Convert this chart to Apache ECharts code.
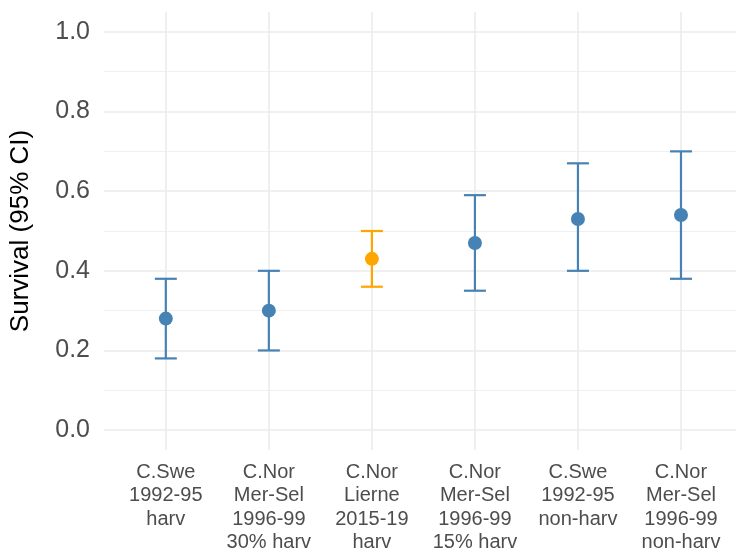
<!DOCTYPE html>
<html>
<head>
<meta charset="utf-8">
<script src="https://cdn.jsdelivr.net/npm/echarts@6/dist/echarts.min.js"></script>
<style>
  html, body { margin: 0; padding: 0; background: #ffffff; }
  #chart { width: 736px; height: 558px; }
</style>
</head>
<body>
<div id="chart"></div>
<script>
// Population / period groups along the x axis
const categories = [
  'C.Swe\n1992-95\nharv',
  'C.Nor\nMer-Sel\n1996-99\n30% harv',
  'C.Nor\nLierne\n2015-19\nharv',
  'C.Nor\nMer-Sel\n1996-99\n15% harv',
  'C.Swe\n1992-95\nnon-harv',
  'C.Nor\nMer-Sel\n1996-99\nnon-harv'
];
// Survival estimate and 95% CI bounds
const survival = [0.28, 0.30, 0.43, 0.47, 0.53, 0.54];
const lower    = [0.18, 0.20, 0.36, 0.35, 0.40, 0.38];
const upper    = [0.38, 0.40, 0.50, 0.59, 0.67, 0.70];
// Highlighted study
const focal    = [false, false, true, false, false, false];

const yMajorTicks = [0, 0.2, 0.4, 0.6, 0.8, 1.0];
const yMinorTicks = [0.1, 0.3, 0.5, 0.7, 0.9];

const BLUE = '#4682B4';
const ORANGE = '#FFA500';
const GRID = '#ebebeb';
const FONT = '"Liberation Sans", Arial, sans-serif';

const idx = categories.map((_, i) => i);
const colorOf = i => (focal[i] ? ORANGE : BLUE);

const chart = echarts.init(document.getElementById('chart'), null, { renderer: 'canvas' });

const option = {
  backgroundColor: '#ffffff',
  animation: false,
  grid: { left: 103, right: 0, top: 12, bottom: 108, containLabel: false },
  xAxis: {
    type: 'value',
    min: -0.6,
    max: 5.534,
    axisLine: { show: false },
    axisTick: { show: false, customValues: idx },
    splitLine: { show: true, lineStyle: { color: GRID, width: 1.6 } },
    axisLabel: {
      customValues: idx,
      formatter: v => categories[Math.round(v)],
      color: '#4d4d4d',
      fontFamily: FONT,
      fontSize: 20,
      lineHeight: 23.3,
      margin: 11,
      align: 'center'
    }
  },
  yAxis: [
    {
      type: 'value',
      min: -0.05,
      max: 1.05,
      name: 'Survival (95% CI)',
      nameLocation: 'middle',
      nameGap: 70,
      nameRotate: 90,
      nameTextStyle: { color: '#000000', fontFamily: FONT, fontSize: 26 },
      axisLine: { show: false },
      axisTick: { show: false, customValues: yMajorTicks },
      splitLine: { show: true, lineStyle: { color: GRID, width: 1.6 } },
      axisLabel: {
        customValues: yMajorTicks,
        formatter: v => v.toFixed(1),
        color: '#4d4d4d',
        fontFamily: FONT,
        fontSize: 25,
        margin: 14
      }
    },
    {
      type: 'value',
      min: -0.05,
      max: 1.05,
      position: 'left',
      axisLine: { show: false },
      axisTick: { show: false, customValues: yMinorTicks },
      axisLabel: { show: false, customValues: yMinorTicks },
      splitLine: { show: true, lineStyle: { color: '#f0f0f0', width: 1 } }
    }
  ],
  series: [
    {
      name: 'ci',
      type: 'custom',
      yAxisIndex: 0,
      data: idx.map(i => [i, lower[i], upper[i]]),
      encode: { x: 0, y: [1, 2] },
      renderItem: (params, api) => {
        const i = api.value(0);
        const lo = api.coord([i, api.value(1)]);
        const hi = api.coord([i, api.value(2)]);
        const half = 11;
        const style = { stroke: colorOf(i), lineWidth: 2.2, fill: null };
        return {
          type: 'group',
          children: [
            { type: 'line', shape: { x1: lo[0], y1: lo[1], x2: hi[0], y2: hi[1] }, style },
            { type: 'line', shape: { x1: hi[0] - half, y1: hi[1], x2: hi[0] + half, y2: hi[1] }, style },
            { type: 'line', shape: { x1: lo[0] - half, y1: lo[1], x2: lo[0] + half, y2: lo[1] }, style }
          ]
        };
      },
      z: 2
    },
    {
      name: 'survival',
      type: 'scatter',
      yAxisIndex: 0,
      symbol: 'circle',
      symbolSize: 14,
      itemStyle: { opacity: 1 },
      data: idx.map(i => ({ value: [i, survival[i]], itemStyle: { color: colorOf(i), opacity: 1 } })),
      z: 3
    }
  ]
};

chart.setOption(option);
</script>
</body>
</html>
